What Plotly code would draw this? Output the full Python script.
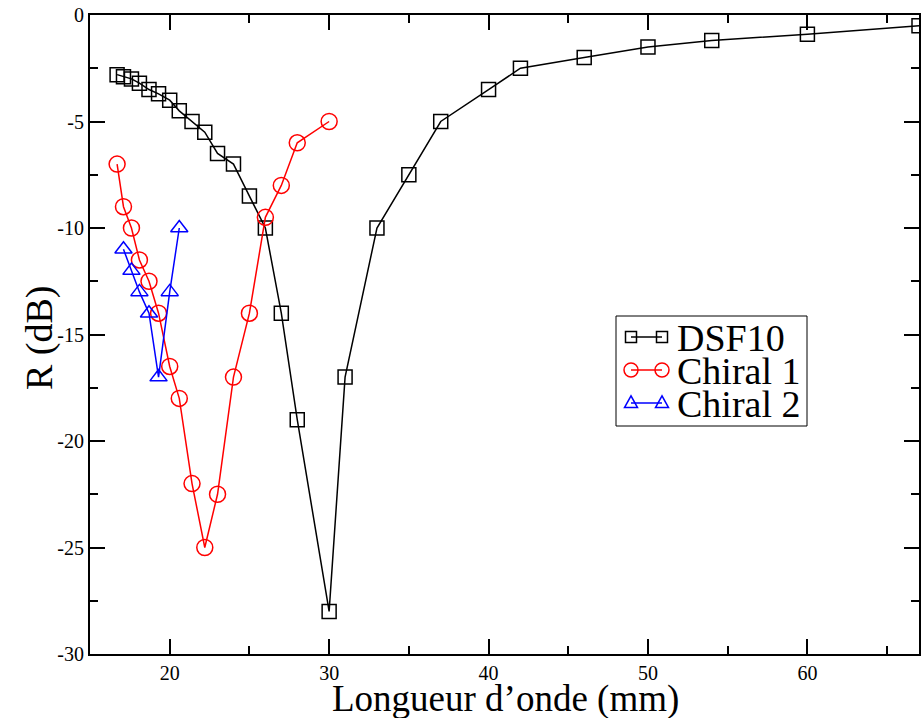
import plotly.graph_objects as go

# Reflection loss versus wavelength for three absorbers
dsf10_x = [16.7, 17.1, 17.6, 18.1, 18.7, 19.3, 20.0, 20.6, 21.4, 22.2, 23.0, 24.0, 25.0, 26.0,
           27.0, 28.0, 30.0, 31.0, 33.0, 35.0, 37.0, 40.0, 42.0, 46.0, 50.0, 54.0, 60.0, 67.0]
dsf10_y = [-2.8, -2.9, -3.0, -3.2, -3.5, -3.7, -4.0, -4.5, -5.0, -5.5, -6.5, -7.0, -8.5, -10.0,
           -14.0, -19.0, -28.0, -17.0, -10.0, -7.5, -5.0, -3.5, -2.5, -2.0, -1.5, -1.2, -0.9, -0.5]

chiral1_x = [16.7, 17.1, 17.6, 18.1, 18.7, 19.3, 20.0, 20.6, 21.4, 22.2, 23.0, 24.0, 25.0,
             26.0, 27.0, 28.0, 30.0]
chiral1_y = [-7.0, -9.0, -10.0, -11.5, -12.5, -14.0, -16.5, -18.0, -22.0, -25.0, -22.5, -17.0,
             -14.0, -9.5, -8.0, -6.0, -5.0]

chiral2_x = [17.1, 17.6, 18.1, 18.7, 19.3, 20.0, 20.6]
chiral2_y = [-11.0, -12.0, -13.0, -14.0, -17.0, -13.0, -10.0]

series_names = ["DSF10", "Chiral 1", "Chiral 2"]
series_colors = ["black", "red", "blue"]

x_tickvals = [20, 30, 40, 50, 60]
x_ticktext = ["20", "30", "40", "50", "60"]
y_tickvals = [0, -5, -10, -15, -20, -25, -30]
y_ticktext = ["0", "-5", "-10", "-15", "-20", "-25", "-30"]

x_title = "Longueur d’onde (mm)"
y_title = "R (dB)"

SERIF = "Liberation Serif"
W, H = 921, 718
ML, MR, MT, MB = 90, 2, 15, 64
PW, PH = W - ML - MR, H - MT - MB


def fx(px):
    """Pixel column -> paper x."""
    return (px - ML) / PW


def fy(py):
    """Pixel row (from top) -> paper y."""
    return (H - MB - py) / PH


fig = go.Figure()
fig.add_trace(go.Scatter(
    x=dsf10_x, y=dsf10_y, mode="lines+markers", name=series_names[0],
    line=dict(color=series_colors[0], width=1.5),
    marker=dict(symbol="square-open", size=14, color=series_colors[0], line=dict(width=1.5)),
))
fig.add_trace(go.Scatter(
    x=chiral1_x, y=chiral1_y, mode="lines+markers", name=series_names[1],
    line=dict(color=series_colors[1], width=1.5),
    marker=dict(symbol="circle-open", size=16, color=series_colors[1], line=dict(width=1.5)),
))
fig.add_trace(go.Scatter(
    x=chiral2_x, y=chiral2_y, mode="lines+markers", name=series_names[2],
    line=dict(color=series_colors[2], width=1.5),
    marker=dict(symbol="triangle-up-open", size=15, color=series_colors[2], line=dict(width=1.5)),
))

tick_font = dict(family=SERIF, size=20, color="black")
axis_common = dict(
    showgrid=False, zeroline=False, showline=True, linecolor="black", linewidth=2,
    mirror="allticks", ticks="inside", ticklen=15, tickwidth=1.5, tickcolor="black",
)

fig.update_xaxes(
    **axis_common, range=[15, 67], tickvals=x_tickvals, ticktext=x_ticktext,
    tickfont=tick_font,
    minor=dict(dtick=5, tick0=0, ticks="inside", ticklen=8, tickwidth=1.5, tickcolor="black"),
)
fig.update_yaxes(
    **axis_common, range=[-30, 0], tickvals=y_tickvals, ticktext=y_ticktext,
    tickfont=tick_font,
    minor=dict(dtick=2.5, tick0=0, ticks="inside", ticklen=8, tickwidth=1.5, tickcolor="black"),
)

# Axis titles placed as annotations so they sit snugly under / beside the tick labels
annotations = [
    dict(xref="paper", yref="paper", x=fx(505), y=fy(699),
         xanchor="center", yanchor="middle",
         text=x_title, showarrow=False,
         font=dict(family=SERIF, size=37, color="black")),
    dict(xref="paper", yref="paper", x=fx(39), y=fy(338),
         xanchor="center", yanchor="middle", textangle=-90,
         text=y_title, showarrow=False,
         font=dict(family=SERIF, size=38, color="black")),
]

# Compact legend box with two sample symbols joined by a line per series
shapes = [dict(type="rect", xref="paper", yref="paper",
               x0=fx(616), x1=fx(807), y0=fy(426), y1=fy(316),
               line=dict(color="black", width=1), fillcolor="white", layer="above")]
row_y = [337, 370, 403]
left_px, right_px = 631, 662
for i, (name, color, ry) in enumerate(zip(series_names, series_colors, row_y)):
    shapes.append(dict(type="line", xref="paper", yref="paper",
                       x0=fx(left_px), x1=fx(right_px), y0=fy(ry), y1=fy(ry),
                       line=dict(color=color, width=1.5), layer="above"))
    for cx in (left_px, right_px):
        if i == 0:
            r = 5.5
            shapes.append(dict(type="rect", xref="paper", yref="paper",
                               x0=fx(cx - r), x1=fx(cx + r), y0=fy(ry + r), y1=fy(ry - r),
                               line=dict(color=color, width=1.5), fillcolor="rgba(0,0,0,0)",
                               layer="above"))
        elif i == 1:
            r = 7
            shapes.append(dict(type="circle", xref="paper", yref="paper",
                               x0=fx(cx - r), x1=fx(cx + r), y0=fy(ry + r), y1=fy(ry - r),
                               line=dict(color=color, width=1.5), fillcolor="rgba(0,0,0,0)",
                               layer="above"))
        else:
            r = 6.5
            path = "M {:.5f},{:.5f} L {:.5f},{:.5f} L {:.5f},{:.5f} Z".format(
                fx(cx), fy(ry - r * 1.1), fx(cx - r), fy(ry + r * 0.7), fx(cx + r), fy(ry + r * 0.7))
            shapes.append(dict(type="path", xref="paper", yref="paper", path=path,
                               line=dict(color=color, width=1.5), layer="above"))
    annotations.append(dict(xref="paper", yref="paper", x=fx(675), y=fy(ry + 1),
                            xanchor="left", yanchor="middle",
                            text=name, showarrow=False,
                            font=dict(family=SERIF, size=38, color="black")))

fig.update_layout(
    width=W, height=H,
    margin=dict(l=ML, r=MR, t=MT, b=MB, autoexpand=False),
    plot_bgcolor="white", paper_bgcolor="white",
    showlegend=False,
    shapes=shapes,
    annotations=annotations,
)

fig.write_html("out.html")
